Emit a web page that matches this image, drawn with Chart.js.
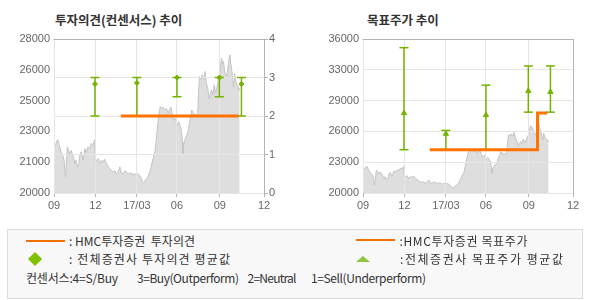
<!DOCTYPE html>
<html><head><meta charset="utf-8">
<script src="https://cdn.jsdelivr.net/npm/chart.js@4.4.1/dist/chart.umd.min.js"></script>
<style>
html,body{margin:0;padding:0;background:#fff;}
body{width:590px;height:300px;position:relative;overflow:hidden;font-family:"Noto Sans CJK KR",sans-serif;}
.title{position:absolute;top:12px;font-size:12.5px;font-weight:bold;color:#333;white-space:nowrap;line-height:16px;}
canvas{position:absolute;top:0;}
.lg{position:absolute;left:7px;top:229px;width:576px;height:70px;box-sizing:border-box;border:1px solid #dcdcdc;background:#f8f8f8;}
.t{position:absolute;font-size:12px;color:#333;white-space:pre;line-height:14px;}
.r1{top:233.5px;} .r2{top:252px;} .r3{top:270.5px;}
.ln{position:absolute;height:2px;background:#f07000;}
.dia{position:absolute;width:10px;height:10px;background:#80c000;transform:rotate(45deg);}
.tri{position:absolute;width:0;height:0;border-left:7px solid transparent;border-right:7px solid transparent;border-bottom:6px solid #8cc63e;}
</style>
</head><body>
<div class="title" style="left:55px;">투자의견(컨센서스) 추이</div>
<div class="title" style="left:367px;">목표주가 추이</div>
<canvas id="c1" width="300" height="215" style="left:0;width:300px;height:215px;"></canvas>
<canvas id="c2" width="295" height="215" style="left:295px;width:295px;height:215px;"></canvas>
<div class="lg"></div>
<div class="ln" style="left:26px;top:239.5px;width:39px;"></div>
<div class="t r1" style="left:69px;" data-w="126">: HMC투자증권  투자의견</div>
<div class="dia" style="left:29.5px;top:254px;"></div>
<div class="t r2" style="left:69px;" data-w="161">: 전체증권사 투자의견 평균값</div>
<div class="ln" style="left:356px;top:238.5px;width:39px;"></div>
<div class="t r1" style="left:399.5px;" data-w="128">:HMC투자증권 목표주가</div>
<div class="tri" style="left:356px;top:256px;"></div>
<div class="t r2" style="left:400px;" data-w="163">:전체증권사 목표주가 평균값</div>
<div class="t r3" style="left:26px;" data-w="92">컨센서스:4=S/Buy</div>
<div class="t r3" style="left:137px;" data-w="102">3=Buy(Outperform)</div>
<div class="t r3" style="left:247.5px;" data-w="49">2=Neutral</div>
<div class="t r3" style="left:311px;" data-w="115">1=Sell(Underperform)</div>
<script>
// ---- x axis (days since 2016-09-01) ----
const xTickDays   = [0, 90, 180, 267, 360, 456];
const xTickLabels = ['09', '12', '17/03', '06', '09', '12'];

// ---- share price series ----
const priceDays = [0,4,7,9,12,16,20,22,25,27,29,32,34,37,40,43,45,48,51,54,56,59,63,67,70,74,78,81,85,88,
  90,92,96,99,103,106,110,114,117,121,125,128,132,135,139,143,146,150,154,157,161,164,168,172,175,179,182,186,190,192,
  195,198,201,204,208,211,215,219,222,224,227,229,231,234,237,240,244,248,251,254,257,260,264,267,271,274,277,279,280,282,
  285,288,291,294,297,299,302,306,309,312,314,316,319,322,325,328,331,334,337,340,342,345,348,351,354,357,360,362,364,366,
  368,371,373,375,377,379,382,384,386,388,390,392,395,397,399,401,403];
const priceVals = [22660,22500,22750,22750,22400,22100,21880,21700,20830,21500,22400,22200,21970,22200,22050,21800,21530,21700,21360,21500,21970,22140,21700,22310,22100,22400,22300,22570,22500,22750,
  21620,21700,21790,21530,21700,21620,21750,21530,21400,21270,21150,21100,21150,21010,21100,21360,21050,21010,21150,21100,21000,21010,21050,20920,21000,20970,21000,20920,20750,20570,
  20520,20650,20750,20830,21100,21360,21800,22140,22750,23300,23900,24300,24490,24400,24450,24310,24400,24140,24350,24450,24000,23790,23900,23530,23700,23500,23180,22600,22050,22600,
  22800,23000,23180,23620,24000,24310,24140,24100,24050,24100,25300,26050,25900,26140,25900,26310,25700,25400,24900,25200,25360,25100,25620,25200,25500,25880,26050,26700,27010,26700,
  26830,26230,26200,26000,26400,26800,27180,26700,26400,25900,25500,26230,25800,25620,25600,25300,25440];

// ---- left: investment opinion ----
const leftPriceTicks  = [20000, 21600, 23200, 24800, 26400, 28000];
const leftPriceLabels = ['20000', '21000', '23000', '25000', '26000', '28000'];
const opinionTicks = [0, 1, 2, 3, 4];
const hmcOpinionDays = [145, 401];
const hmcOpinionVals = [2, 2];
const consDays = [89, 180, 267, 359, 407];
const opinionLow  = [2, 2, 2.5, 2.5, 2];
const opinionHigh = [3, 3, 3, 3, 3];
const opinionMean = [2.83, 2.86, 3, 3, 2.83];

// ---- right: target price ----
const rightPriceTicks  = [20000, 23200, 26400, 29600, 32800, 36000];
const rightPriceLabels = ['20000', '23000', '26000', '29000', '33000', '36000'];
const hmcTargetDays = [145, 379, 400];
const hmcTargetVals = [24500, 28300, 28300];
const targetLow  = [24500, 24500, 24500, 28400, 28400];
const targetHigh = [35100, 26500, 31200, 33200, 33200];
const targetMean = [28300, 26150, 28100, 30600, 30500];

// ---- styles ----
const GRID = '#e6e6e6', AXIS = '#b4b4b4', TXT = '#666';
const GREEN = '#74b400', ORANGE = '#ff7300';
const tickFont = {family: 'Liberation Sans', size: 11};

function fitText(){
  document.querySelectorAll('[data-w]').forEach(el => {
    el.style.letterSpacing = '0px';
    const nat = el.getBoundingClientRect().width;
    const n = Array.from(el.textContent).length;
    el.style.letterSpacing = ((+el.dataset.w - nat) / Math.max(1, n - 1)) + 'px';
  });
}
fitText();
if (document.fonts && document.fonts.ready) document.fonts.ready.then(fitText);

function pts(xs, ys){ return xs.map((x,i)=>({x, y: ys[i]})); }
function errPts(xs, lo, hi){ const d=[]; xs.forEach((x,i)=>{ d.push({x,y:lo[i]},{x,y:hi[i]},{x,y:null}); }); return d; }

const framePlugin = {
  id: 'frame',
  afterDatasetDraw(chart, args){
    if (args.index !== 0) return;
    chart.scales.x.drawGrid(chart.chartArea);
    const g = chart.options.plugins.frame.gridAxis;
    chart.scales[g].drawGrid(chart.chartArea);
  },
  afterDraw(chart){
    const a = chart.chartArea, c = chart.ctx;
    c.save(); c.strokeStyle = AXIS; c.lineWidth = 1;
    c.beginPath();
    c.moveTo(Math.round(a.left)-0.5, Math.round(a.top)+0.5); c.lineTo(Math.round(a.right)+0.5, Math.round(a.top)+0.5);
    c.moveTo(Math.round(a.right)+0.5, Math.round(a.top)); c.lineTo(Math.round(a.right)+0.5, Math.round(a.bottom));
    c.stroke(); c.restore();
  }
};

function xScale(){
  return {
    type: 'linear', min: 0, max: 456,
    afterBuildTicks: s => { s.ticks = xTickDays.map(v => ({value: v})); },
    ticks: {callback: (v, i) => xTickLabels[i], color: TXT, font: tickFont, padding: 2, maxRotation: 0, autoSkip: false},
    grid: {color: GRID, tickLength: 4, tickColor: AXIS},
    border: {color: AXIS},
    afterFit: s => { s.height = 22; }
  };
}
function priceDataset(axis){
  return {type: 'line', data: pts(priceDays, priceVals), yAxisID: axis, order: 10,
    borderColor: '#c4c4c4', borderWidth: 1, backgroundColor: '#dedede', fill: 'start',
    pointRadius: 0, tension: 0};
}
function errDataset(axis, lo, hi){
  return {type: 'line', data: errPts(consDays, lo, hi), yAxisID: axis, order: 3, spanGaps: false,
    borderColor: GREEN, borderWidth: 1.5, pointStyle: 'line', pointRadius: 4.5,
    pointBorderColor: GREEN, pointBorderWidth: 1.5, fill: false};
}
function meanDataset(axis, vals, style, r){
  return {type: 'line', data: pts(consDays, vals), yAxisID: axis, order: 2, showLine: false,
    pointStyle: style, pointRadius: r, pointBackgroundColor: GREEN, pointBorderColor: GREEN, pointBorderWidth: 1};
}
function hmcDataset(axis, xs, ys){
  return {type: 'line', data: pts(xs, ys), yAxisID: axis, order: 1, stepped: 'before',
    borderColor: ORANGE, borderWidth: 3, pointRadius: 0, fill: false, borderCapStyle: 'butt', borderJoinStyle: 'miter'};
}
const baseOpts = {
  responsive: false, animation: false, devicePixelRatio: 1,
  events: [],
  plugins: {legend: {display: false}, tooltip: {enabled: false}, title: {display: false}}
};

new Chart(document.getElementById('c1'), {
  data: {datasets: [
    priceDataset('y'),
    errDataset('y1', opinionLow, opinionHigh),
    meanDataset('y1', opinionMean, 'rectRot', 2.5),
    hmcDataset('y1', hmcOpinionDays, hmcOpinionVals)
  ]},
  options: Object.assign({}, baseOpts, {
    layout: {padding: {left: 0, right: 0, top: 39, bottom: 0}},
    plugins: Object.assign({}, baseOpts.plugins, {frame: {gridAxis: 'y1'}}),
    scales: {
      x: xScale(),
      y: {position: 'left', min: 20000, max: 28000,
        afterBuildTicks: s => { s.ticks = leftPriceTicks.map(v => ({value: v})); },
        ticks: {callback: (v, i) => leftPriceLabels[i], color: TXT, font: tickFont, padding: 4},
        grid: {display: false, drawTicks: false},
        border: {color: AXIS},
        afterFit: s => { s.width = 54; }},
      y1: {position: 'right', min: 0, max: 4,
        afterBuildTicks: s => { s.ticks = opinionTicks.map(v => ({value: v})); },
        ticks: {color: TXT, font: tickFont, padding: 1},
        grid: {color: GRID, tickLength: 4, tickColor: AXIS},
        border: {color: AXIS},
        afterFit: s => { s.width = 36; }}
    }
  }),
  plugins: [framePlugin]
});

new Chart(document.getElementById('c2'), {
  data: {datasets: [
    priceDataset('y'),
    errDataset('y', targetLow, targetHigh),
    meanDataset('y', targetMean, 'triangle', 3),
    hmcDataset('y', hmcTargetDays, hmcTargetVals)
  ]},
  options: Object.assign({}, baseOpts, {
    layout: {padding: {left: 0, right: 17, top: 39, bottom: 0}},
    plugins: Object.assign({}, baseOpts.plugins, {frame: {gridAxis: 'y'}}),
    scales: {
      x: xScale(),
      y: {position: 'left', min: 20000, max: 36000,
        afterBuildTicks: s => { s.ticks = rightPriceTicks.map(v => ({value: v})); },
        ticks: {callback: (v, i) => rightPriceLabels[i], color: TXT, font: tickFont, padding: 4},
        grid: {color: GRID, drawTicks: false},
        border: {color: AXIS},
        afterFit: s => { s.width = 68; }}
    }
  }),
  plugins: [framePlugin]
});
</script>
</body></html>
